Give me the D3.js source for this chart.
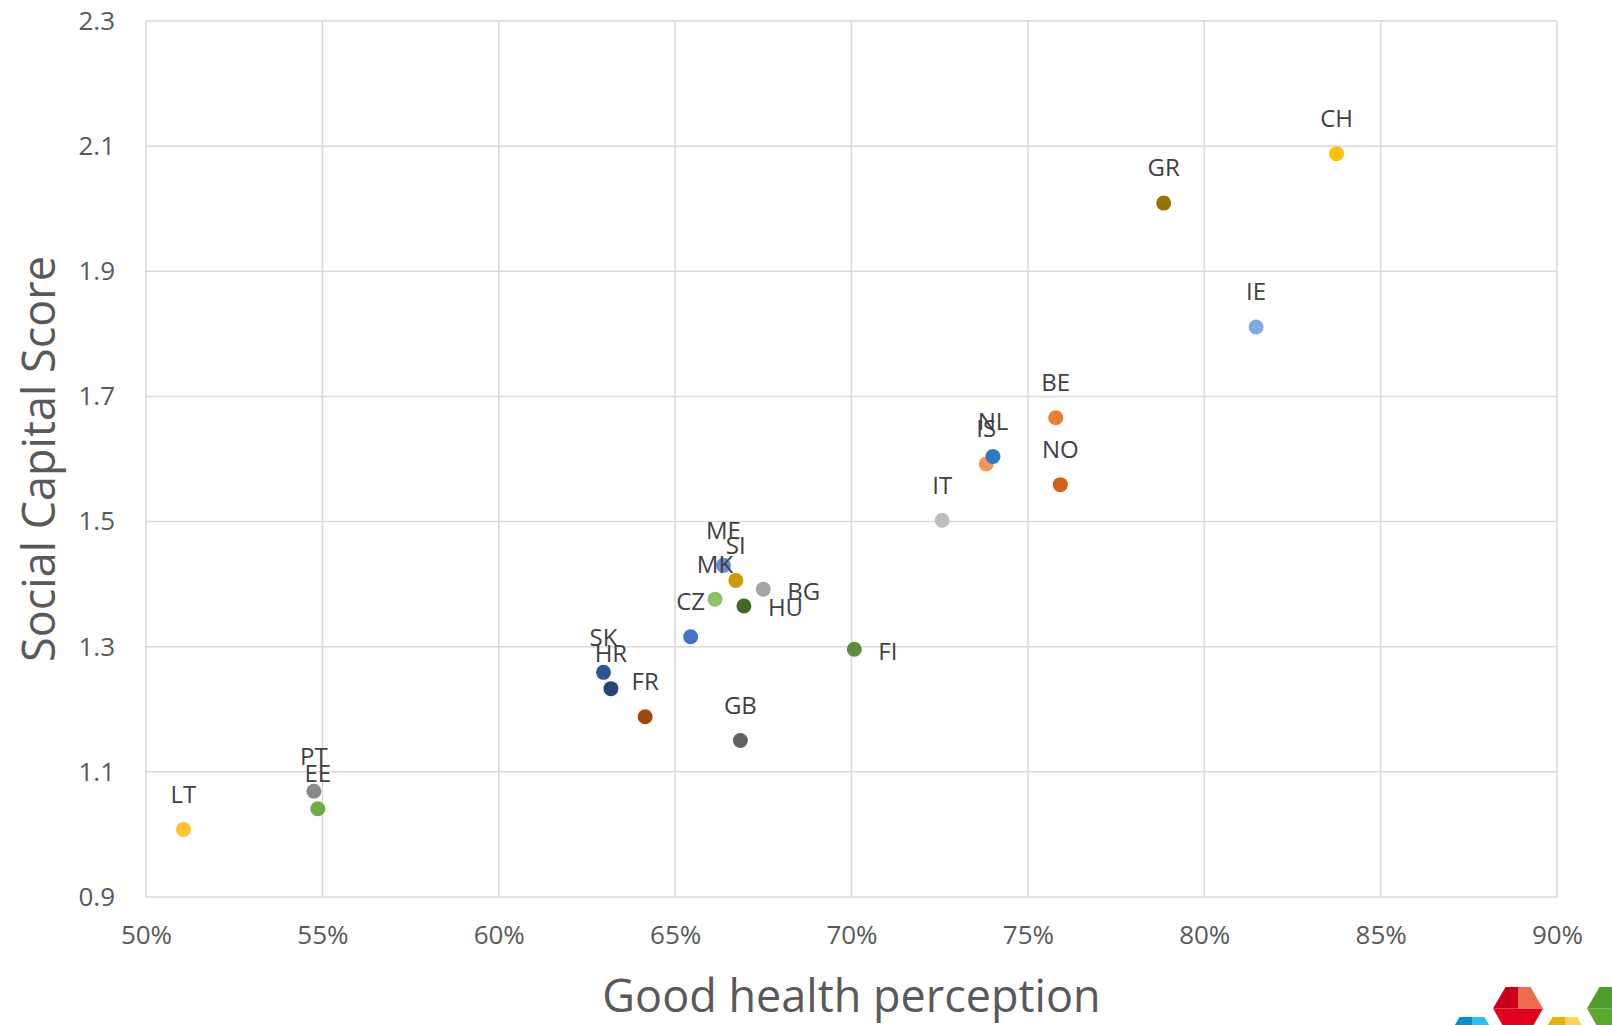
<!DOCTYPE html>
<html>
<head>
<meta charset="utf-8">
<script src="https://cdn.jsdelivr.net/npm/d3@7"></script>
<style>
body { margin: 0; background: #fff; }
text { font-family: "Open Sans", sans-serif; }
</style>
</head>
<body>
<div class="chart"></div>
<script>
// country codes, good health perception (share) and social capital score
var countries = ["LT","PT","EE","SK","HR","FR","CZ","MK","ME","SI","HU","BG","GB","FI","IT","IS","NL","BE","NO","GR","IE","CH"]
var health = [0.5106,0.5476,0.5487,0.6297,0.6318,0.6415,0.6544,0.6613,0.6637,0.6672,0.6695,0.6750,0.6685,0.7008,0.7257,0.7382,0.7401,0.7579,0.7592,0.7885,0.8147,0.8375]
var score = [1.008,1.069,1.041,1.259,1.233,1.188,1.316,1.376,1.430,1.406,1.365,1.392,1.150,1.296,1.502,1.592,1.604,1.666,1.559,2.009,1.811,2.088]
var dotColors = ["#FFC530","#898989","#70AD47","#2F5597","#264478","#9E480E","#4472C4","#8CC168","#698ED0","#CC9A06","#43682B","#A5A5A5","#636363","#56903A","#BDBDBD","#F1975A","#2E78C4","#ED7D31","#D0601A","#997300","#7DAAE0","#FFC000"]
var rightLabels = ["BG","HU","FI"]

var xTicks = [0.5,0.55,0.6,0.65,0.7,0.75,0.8,0.85,0.9]
var yTicks = [0.9,1.1,1.3,1.5,1.7,1.9,2.1,2.3]

var width = 1612, height = 1025
var plot = {left: 146, right: 1557, top: 21, bottom: 897}

var data = countries.map((c, i) => ({code: c, x: health[i], y: score[i], color: dotColors[i]}))

var x = d3.scaleLinear().domain([0.5, 0.9]).range([plot.left, plot.right])
var y = d3.scaleLinear().domain([0.9, 2.3]).range([plot.bottom, plot.top])

var svg = d3.select('.chart').append("svg")
    .attr("width", width)
    .attr("height", height)

// grid
svg.append("g")
    .attr("stroke", "#D9D9D9")
    .attr("stroke-width", 1.5)
    .selectAll("line.v")
    .data(xTicks)
    .enter().append("line")
    .attr("x1", d => x(d)).attr("x2", d => x(d))
    .attr("y1", plot.top).attr("y2", plot.bottom)

svg.append("g")
    .attr("stroke", "#D9D9D9")
    .attr("stroke-width", 1.5)
    .selectAll("line.h")
    .data(yTicks)
    .enter().append("line")
    .attr("x1", plot.left).attr("x2", plot.right)
    .attr("y1", d => y(d)).attr("y2", d => y(d))

// axes (labels only, lines come from grid)
var xAxis = svg.append("g")
    .attr("transform", `translate(0,${plot.bottom + 26})`)
    .call(d3.axisBottom(x).tickValues(xTicks).tickFormat(d3.format(".0%")).tickSize(0))
xAxis.select(".domain").remove()
xAxis.selectAll("text")
    .attr("font-size", 26)
    .attr("fill", "#595959")
    .attr("font-family", "Open Sans")

var yAxis = svg.append("g")
    .attr("transform", `translate(${plot.left - 31},0)`)
    .call(d3.axisLeft(y).tickValues(yTicks).tickFormat(d3.format(".1f")).tickSize(0).tickPadding(0))
yAxis.select(".domain").remove()
yAxis.selectAll("text")
    .attr("font-size", 26)
    .attr("fill", "#595959")
    .attr("font-family", "Open Sans")

// axis titles
svg.append("text")
    .attr("x", (plot.left + plot.right) / 2)
    .attr("y", 1012)
    .attr("text-anchor", "middle")
    .attr("font-size", 45)
    .attr("fill", "#595959")
    .text("Good health perception")

svg.append("text")
    .attr("transform", `translate(55,${(plot.top + plot.bottom) / 2}) rotate(-90)`)
    .attr("text-anchor", "middle")
    .attr("font-size", 45)
    .attr("fill", "#595959")
    .text("Social Capital Score")

// points
svg.append("g")
    .selectAll("circle")
    .data(data)
    .enter().append("circle")
    .attr("cx", d => x(d.x))
    .attr("cy", d => y(d.y))
    .attr("r", 7.5)
    .attr("fill", d => d.color)

// data labels
svg.append("g")
    .attr("font-size", 24)
    .attr("fill", "#404040")
    .selectAll("text")
    .data(data)
    .enter().append("text")
    .attr("x", d => rightLabels.includes(d.code) ? x(d.x) + 24 : x(d.x))
    .attr("y", d => rightLabels.includes(d.code) ? y(d.y) + 2 : y(d.y) - 35)
    .attr("dy", "0.35em")
    .attr("text-anchor", d => rightLabels.includes(d.code) ? "start" : "middle")
    .text(d => d.code)

// logo cubes in the corner (cut by the page edge)
var cube = (cx, cy, r, dark, light, mid) => {
    var h = r * Math.sqrt(3) / 2
    var L = [cx - r, cy], TL = [cx - r / 2, cy - h], TM = [cx, cy - h], TR = [cx + r / 2, cy - h],
        R = [cx + r, cy], BR = [cx + r / 2, cy + h], BL = [cx - r / 2, cy + h], C = [cx, cy]
    var g = svg.append("g")
    g.append("polygon").attr("points", [L, C, R, BR, BL].join(" ")).attr("fill", mid)
    g.append("polygon").attr("points", [L, TL, TM, C].join(" ")).attr("fill", dark)
    g.append("polygon").attr("points", [TM, TR, R, C].join(" ")).attr("fill", light)
}
cube(1472, 1038.6, 25, "#0A8FC9", "#2CC0EE", "#1EB5E6")
cube(1518, 1008.6, 25, "#C8001C", "#EC6B4E", "#E3001B")
cube(1565, 1038.6, 25, "#E8B200", "#FFD45A", "#FFC93A")
cube(1612, 1008.6, 25, "#4E9A2A", "#8CC462", "#5BA82E")
</script>
</body>
</html>
